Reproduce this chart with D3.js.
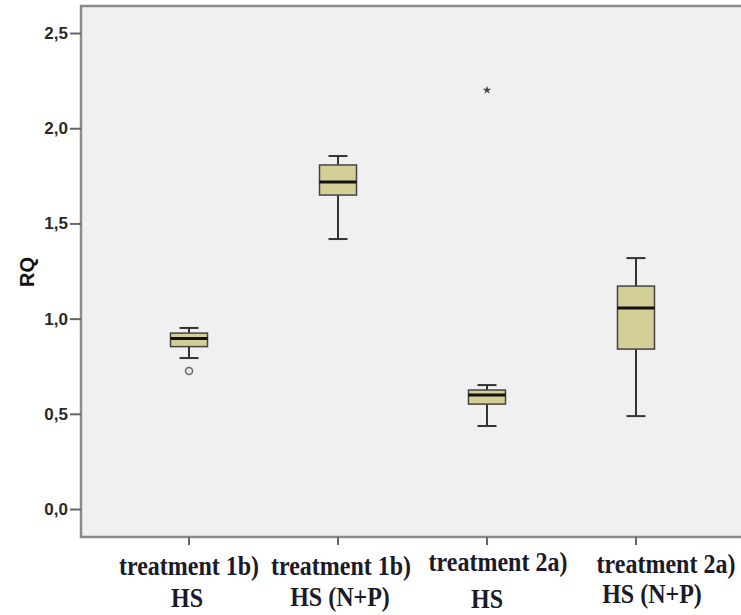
<!DOCTYPE html>
<html><head><meta charset="utf-8">
<script src="https://cdn.jsdelivr.net/npm/d3@7"></script>
<style>body{margin:0;background:#fff;}svg{display:block;}</style>
</head><body>
<script>
const categories = ["1b_HS", "1b_HSNP", "2a_HS", "2a_HSNP"];
const labelLine1 = ["treatment 1b)", "treatment 1b)", "treatment 2a)", "treatment 2a)"];
const labelLine2 = ["HS", "HS (N+P)", "HS", "HS (N+P)"];
const whiskerLow = [0.793, 1.418, 0.436, 0.488];
const q1 = [0.853, 1.649, 0.551, 0.840];
const median = [0.895, 1.717, 0.599, 1.056];
const q3 = [0.924, 1.807, 0.625, 1.171];
const whiskerHigh = [0.951, 1.854, 0.651, 1.318];
const outliers = [{cat: "1b_HS", value: 0.725, type: "circle"}];
const extremes = [{cat: "2a_HS", value: 2.20, type: "star"}];
const yTicks = [0, 0.5, 1.0, 1.5, 2.0, 2.5];

(function () {
const W = 741, H = 615;
const mLeft = 81, mTop = 6, mBottom = 537, mRight = 744;
const svg = d3.select("body").append("svg").attr("width", W).attr("height", H);

const y = d3.scaleLinear().domain([-0.147, 2.642]).range([mBottom, mTop]);
const x = d3.scaleBand().domain(categories).range([mLeft, mRight]).paddingOuter(0.225).paddingInner(0);
const cx = c => x(c) + x.bandwidth() / 2;

// plot background
svg.append("rect").attr("x", mLeft).attr("y", mTop).attr("width", mRight - mLeft).attr("height", mBottom - mTop)
  .attr("fill", "#f0f0f0").attr("stroke", "#8a8a8a").attr("stroke-width", 2.5);

// y axis
const yAxis = d3.axisLeft(y).tickValues(yTicks).tickSize(11).tickPadding(2)
  .tickFormat(d => d3.format(".1f")(d).replace(".", ","));
const gy = svg.append("g").attr("transform", `translate(${mLeft},0)`).call(yAxis);
gy.select(".domain").remove();
gy.selectAll(".tick line").attr("stroke", "#666").attr("stroke-width", 2);
gy.selectAll(".tick text").attr("font-family", "Arial, Liberation Sans, sans-serif")
  .attr("font-weight", "bold").attr("font-size", 17).attr("fill", "#2a2a2a");

// x axis ticks
const xAxis = d3.axisBottom(x).tickSize(8).tickFormat("");
const gx = svg.append("g").attr("transform", `translate(0,${mBottom})`).call(xAxis);
gx.select(".domain").remove();
gx.selectAll(".tick line").attr("stroke", "#666").attr("stroke-width", 2);

// y label
svg.append("text").attr("transform", `translate(34,272) rotate(-90)`)
  .attr("text-anchor", "middle").attr("font-family", "Arial, Liberation Sans, sans-serif")
  .attr("font-weight", "bold").attr("font-size", 20).attr("fill", "#111").text("RQ");

// boxes
const boxW = 37, capW = 19;
const g = svg.append("g");
categories.forEach((c, i) => {
  const xc = cx(c);
  const gg = g.append("g");
  gg.append("line").attr("x1", xc).attr("x2", xc).attr("y1", y(whiskerHigh[i])).attr("y2", y(q3[i]))
    .attr("stroke", "#333").attr("stroke-width", 2);
  gg.append("line").attr("x1", xc).attr("x2", xc).attr("y1", y(q1[i])).attr("y2", y(whiskerLow[i]))
    .attr("stroke", "#333").attr("stroke-width", 2);
  [whiskerHigh[i], whiskerLow[i]].forEach(v => {
    gg.append("line").attr("x1", xc - capW / 2).attr("x2", xc + capW / 2).attr("y1", y(v)).attr("y2", y(v))
      .attr("stroke", "#333").attr("stroke-width", 2);
  });
  gg.append("rect").attr("x", xc - boxW / 2).attr("y", y(q3[i])).attr("width", boxW)
    .attr("height", y(q1[i]) - y(q3[i])).attr("fill", "#d4cf96").attr("stroke", "#444").attr("stroke-width", 1.5);
  gg.append("line").attr("x1", xc - boxW / 2).attr("x2", xc + boxW / 2).attr("y1", y(median[i])).attr("y2", y(median[i]))
    .attr("stroke", "#111").attr("stroke-width", 3);
});

outliers.forEach(o => {
  g.append("circle").attr("cx", cx(o.cat)).attr("cy", y(o.value)).attr("r", 3.5)
    .attr("fill", "none").attr("stroke", "#666").attr("stroke-width", 1.5);
});
extremes.forEach(o => {
  g.append("path").attr("d", d3.symbol().type(d3.symbolStar).size(22)())
    .attr("transform", `translate(${cx(o.cat)},${y(o.value)})`).attr("fill", "#444");
});

// category labels (two lines), glyphs slightly stretched vertically as in the source
const lbl1 = [[0, 575], [3, 575], [11, 571], [30, 573]];
const lbl2 = [[-2, 607], [2, 606], [0, 608], [16, 603]];
const font = "Liberation Serif, Times New Roman, serif";
categories.forEach((c, i) => {
  svg.append("text").attr("transform", `translate(${cx(c) + lbl1[i][0]},${lbl1[i][1]}) scale(1,1.15)`)
    .attr("text-anchor", "middle").attr("font-family", font)
    .attr("font-weight", "bold").attr("font-size", 24).attr("fill", "#1a1a2a").text(labelLine1[i]);
  svg.append("text").attr("transform", `translate(${cx(c) + lbl2[i][0]},${lbl2[i][1]}) scale(1,1.15)`)
    .attr("text-anchor", "middle").attr("font-family", font)
    .attr("font-weight", "bold").attr("font-size", 24).attr("fill", "#1a1a2a").text(labelLine2[i]);
});
})();
</script>
</body></html>
